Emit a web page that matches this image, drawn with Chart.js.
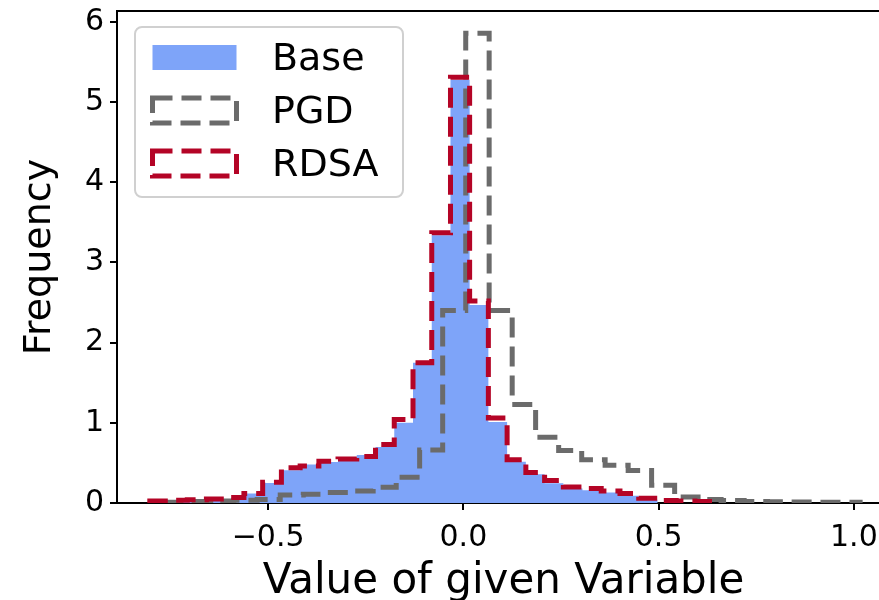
<!DOCTYPE html>
<html><head><meta charset="utf-8">
<script src="https://cdn.jsdelivr.net/npm/chart.js@4.4.1/dist/chart.umd.min.js"></script>
<style>html,body{margin:0;padding:0;overflow:hidden;background:#fff;width:879px;height:600px}
#wrap{width:890px;height:600px}</style></head>
<body><div id="wrap"><canvas id="c" width="890" height="600"></canvas></div>
<script>
// Bin edges shared by Base and RDSA
const rdsaEdges = [-0.803, -0.755, -0.707, -0.658, -0.610, -0.562, -0.514, -0.466, -0.418, -0.370, -0.321, -0.273, -0.225, -0.177, -0.129, -0.081, -0.033, 0.016, 0.064, 0.112, 0.160, 0.208, 0.256, 0.305, 0.353, 0.401, 0.449, 0.497, 0.545, 0.593, 0.642];
const baseValues = [0.01, 0.015, 0.02, 0.03, 0.05, 0.12, 0.25, 0.41, 0.48, 0.51, 0.57, 0.60, 0.70, 1.00, 1.75, 3.34, 5.28, 2.47, 1.01, 0.515, 0.36, 0.245, 0.18, 0.16, 0.13, 0.09, 0.04, 0, 0, 0];
const rdsaValues = [0.025, 0.033, 0.04, 0.05, 0.07, 0.12, 0.26, 0.44, 0.46, 0.52, 0.55, 0.58, 0.73, 1.04, 1.75, 3.37, 5.31, 2.52, 1.06, 0.54, 0.38, 0.28, 0.20, 0.18, 0.15, 0.12, 0.06, 0.03, 0.025, 0.02];
// PGD bins
const pgdEdges = [-0.766, -0.706, -0.647, -0.588, -0.528, -0.469, -0.410, -0.350, -0.291, -0.231, -0.172, -0.112, -0.053, 0.006, 0.066, 0.125, 0.185, 0.244, 0.303, 0.363, 0.422, 0.482, 0.541, 0.601, 0.660, 0.719, 0.779, 0.838, 0.898, 0.957, 1.016];
const pgdValues = [0.01, 0.02, 0.025, 0.035, 0.045, 0.10, 0.11, 0.13, 0.15, 0.195, 0.32, 0.66, 2.40, 5.86, 2.40, 1.23, 0.82, 0.655, 0.54, 0.47, 0.405, 0.22, 0.075, 0.045, 0.03, 0.02, 0.015, 0.012, 0.01, 0.01];

const seriesNames = ['Base', 'PGD', 'RDSA'];
const xTicks = [-0.5, 0, 0.5, 1.0];
const xTickLabels = ['\u22120.5', '0.0', '0.5', '1.0'];
const yTicks = [0, 1, 2, 3, 4, 5, 6];
const yTickLabels = ['0', '1', '2', '3', '4', '5', '6'];
const xLabel = 'Value of given Variable';
const yLabel = 'Frequency';

function stepPoints(edges, values) {
  const pts = [{x: edges[0], y: 0}];
  for (let i = 0; i < values.length; i++) pts.push({x: edges[i], y: values[i]});
  pts.push({x: edges[edges.length - 1], y: 0});
  return pts;
}

const FONT = 'DejaVu Sans';

const framePlugin = {
  id: 'frame',
  afterDraw(chart) {
    const {ctx, chartArea: a} = chart;
    ctx.save();
    ctx.strokeStyle = '#000';
    ctx.lineWidth = 2;
    ctx.beginPath();
    ctx.moveTo(a.left, a.top);
    ctx.lineTo(a.right, a.top);
    ctx.lineTo(a.right, a.bottom);
    ctx.stroke();
    ctx.restore();
  }
};

const legendPlugin = {
  id: 'mplLegend',
  afterDraw(chart) {
    const ctx = chart.ctx;
    ctx.save();
    const fx = 135, fy = 27, fw = 268, fh = 170, r = 7;
    ctx.beginPath();
    ctx.moveTo(fx + r, fy);
    ctx.arcTo(fx + fw, fy, fx + fw, fy + fh, r);
    ctx.arcTo(fx + fw, fy + fh, fx, fy + fh, r);
    ctx.arcTo(fx, fy + fh, fx, fy, r);
    ctx.arcTo(fx, fy, fx + fw, fy, r);
    ctx.closePath();
    ctx.fillStyle = 'rgba(255,255,255,0.8)';
    ctx.fill();
    ctx.strokeStyle = '#d0d0d0';
    ctx.lineWidth = 2;
    ctx.stroke();
    chart.data.datasets.forEach((ds, i) => {
      const cy = 57.5 + 53 * i;
      const bx = 152.5, bw = 84, by = cy - 12.5, bh = 25;
      if (ds.fill) {
        ctx.fillStyle = ds.backgroundColor;
        ctx.fillRect(bx, by, bw, bh);
      } else {
        ctx.setLineDash(ds.borderDash || []);
        ctx.lineWidth = ds.borderWidth;
        ctx.strokeStyle = ds.borderColor;
        ctx.lineJoin = 'miter';
        ctx.beginPath();
        ctx.rect(bx, by, bw, bh);
        ctx.stroke();
        ctx.setLineDash([]);
      }
      ctx.fillStyle = '#000';
      ctx.font = '38px "' + FONT + '"';
      ctx.textBaseline = 'middle';
      ctx.textAlign = 'left';
      ctx.fillText(ds.label, 272, cy + 3);
    });
    ctx.restore();
  }
};

new Chart(document.getElementById('c'), {
  type: 'line',
  data: {
    datasets: [
      {label: seriesNames[0], data: stepPoints(rdsaEdges, baseValues), stepped: true, fill: 'origin',
       backgroundColor: '#7ea4f9', borderColor: 'rgba(0,0,0,0)', borderWidth: 0, pointRadius: 0, order: 3},
      {label: seriesNames[1], data: stepPoints(pgdEdges, pgdValues), stepped: true, fill: false,
       borderColor: '#6b6b6b', borderWidth: 5, borderDash: [20, 9], borderJoinStyle: 'miter', borderCapStyle: 'butt', pointRadius: 0, order: 2},
      {label: seriesNames[2], data: stepPoints(rdsaEdges, rdsaValues), stepped: true, fill: false,
       borderColor: '#b40426', borderWidth: 5, borderDash: [20, 9], borderJoinStyle: 'miter', borderCapStyle: 'butt', pointRadius: 0, order: 1}
    ]
  },
  options: {
    responsive: false,
    animation: false,
    devicePixelRatio: 1,
    layout: {padding: {top: 11, left: 0, right: 0, bottom: 0}},
    plugins: {legend: {display: false}, tooltip: {enabled: false}},
    scales: {
      x: {
        type: 'linear', min: -0.887, max: 1.0925,
        afterBuildTicks: s => { s.ticks = xTicks.map(v => ({value: v})); },
        afterFit: s => { s.height = 97; s.paddingLeft = 0; s.paddingRight = 0; },
        ticks: {
          callback: (v) => xTickLabels[xTicks.indexOf(v)],
          font: {family: FONT, size: 30}, color: '#000', padding: 10, maxRotation: 0, autoSkip: false
        },
        grid: {drawOnChartArea: false, drawTicks: true, tickLength: 7, color: '#000', lineWidth: 2},
        border: {display: true, color: '#000', width: 2},
        title: {display: true, text: xLabel, color: '#000', font: {family: FONT, size: 42, lineHeight: 0.85}, padding: {top: 0, bottom: 0}}
      },
      y: {
        type: 'linear', min: 0, max: 6.137,
        afterBuildTicks: s => { s.ticks = yTicks.map(v => ({value: v})); },
        afterFit: s => { s.width = 117; s.paddingTop = 0; s.paddingBottom = 0; },
        ticks: {
          callback: (v) => yTickLabels[yTicks.indexOf(v)],
          font: {family: FONT, size: 30}, color: '#000', padding: 6, autoSkip: false
        },
        grid: {drawOnChartArea: false, drawTicks: true, tickLength: 7, color: '#000', lineWidth: 2},
        border: {display: true, color: '#000', width: 2},
        title: {display: true, text: yLabel, color: '#000', font: {family: FONT, size: 38, lineHeight: 0.85}, padding: {top: 24, bottom: 0}}
      }
    }
  },
  plugins: [framePlugin, legendPlugin]
});
</script>
</body></html>
